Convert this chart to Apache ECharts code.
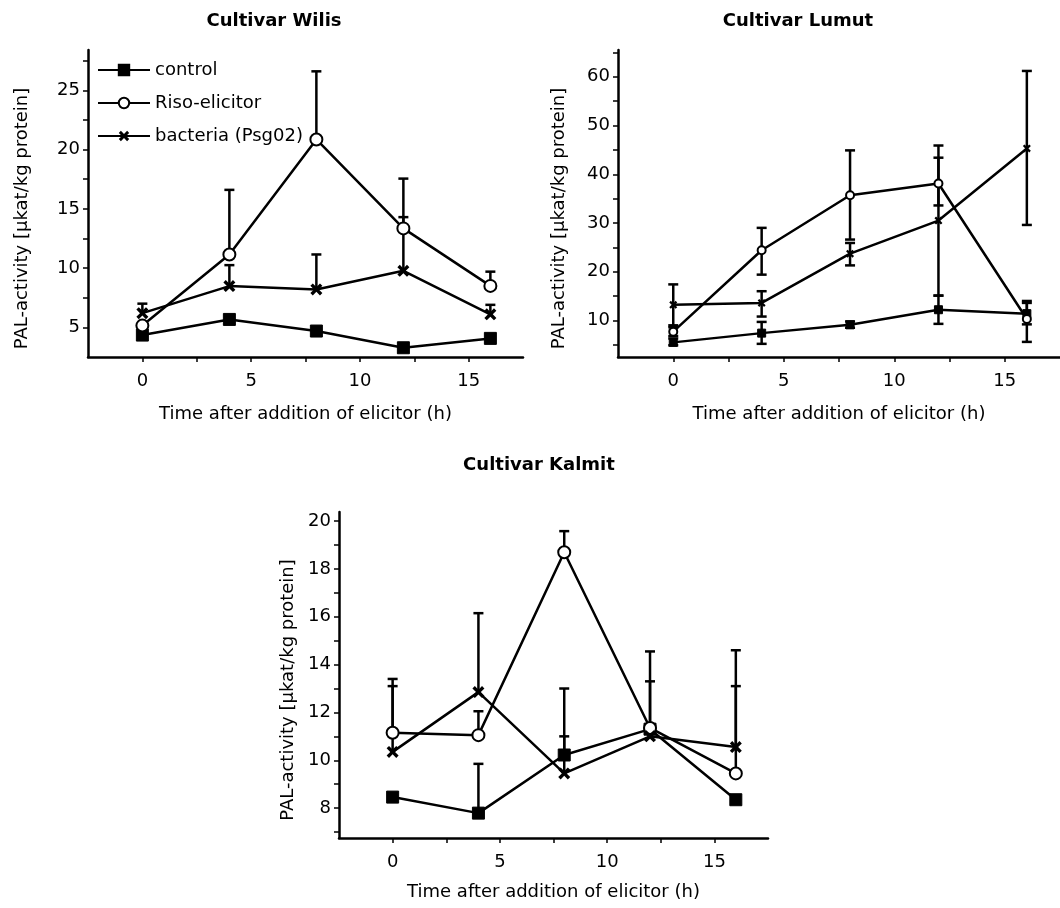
<!DOCTYPE html>
<html>
<head>
<meta charset="utf-8">
<script src="https://cdn.jsdelivr.net/npm/echarts@6/dist/echarts.min.js"></script>
<style>
html,body{margin:0;padding:0;background:#fff;}
#chart{width:1060px;height:908px;}
</style>
</head>
<body>
<div id="chart"></div>
<script>
// ---------- data ----------
const times = [0, 4, 8, 12, 16];
const seriesNames = ['control', 'Riso-elicitor', 'bacteria (Psg02)'];
const panelTitles = ['Cultivar Wilis', 'Cultivar Lumut', 'Cultivar Kalmit'];
const xAxisName = 'Time after addition of elicitor (h)';
const yAxisName = 'PAL-activity [µkat/kg protein]';

// Wilis
const wilisControl = [4.35, 5.67, 4.69, 3.28, 4.07];
const wilisRiso = [5.15, 11.15, 20.85, 13.35, 8.5];
const wilisBacteria = [6.2, 8.48, 8.2, 9.77, 6.1];
const wilisRisoUpper = [null, 16.6, 26.6, 17.55, 9.7];
const wilisBacteriaUpper = [7.0, 10.25, 11.15, 14.3, 6.9];

// Lumut
const lumutControl = [5.5, 7.4, 9.1, 12.2, 11.4];
const lumutRiso = [7.7, 24.4, 35.7, 38.1, 10.3];
const lumutBacteria = [13.2, 13.6, 23.7, 30.5, 45.3];
const lumutControlUpper = [6.3, 9.7, 9.8, 15.1, 13.6];
const lumutControlLower = [4.9, 5.2, 8.5, 9.3, 9.2];
const lumutRisoUpper = [8.6, 29.0, 44.9, 43.4, 14.0];
const lumutRisoLower = [6.8, 19.4, 26.6, 33.6, 5.6];
const lumutBacteriaUpper = [17.4, 16.0, 25.9, 45.9, 61.2];
const lumutBacteriaLower = [9.0, 10.8, 21.3, 15.1, 29.6];

// Kalmit
const kalmitControl = [8.46, 7.79, 10.22, 11.3, 8.35];
const kalmitRiso = [11.15, 11.05, 18.7, 11.35, 9.45];
const kalmitBacteria = [10.35, 12.85, 9.45, 11.0, 10.55];
const kalmitControlUpper = [null, 9.85, 11.0, 14.55, null];
const kalmitRisoUpper = [13.4, 12.05, 19.58, null, 13.1];
const kalmitBacteriaUpper = [13.1, 16.15, 13.0, 13.3, 14.6];

// axis ticks and labels
const xTickLabels = [0, 5, 10, 15];
const xTickMarks = [0, 2.5, 5, 7.5, 10, 12.5, 15];
const wilisYTickLabels = [5, 10, 15, 20, 25];
const wilisYTickMarks = [5, 7.5, 10, 12.5, 15, 17.5, 20, 22.5, 25, 27.5];
const lumutYTickLabels = [10, 20, 30, 40, 50, 60];
const lumutYTickMarks = [5, 10, 15, 20, 25, 30, 35, 40, 45, 50, 55, 60, 65];
const kalmitYTickLabels = [8, 10, 12, 14, 16, 18, 20];
const kalmitYTickMarks = [7, 8, 9, 10, 11, 12, 13, 14, 15, 16, 17, 18, 19, 20];

// ---------- chart ----------
const FONT = 'DejaVu Sans';
const X_SYMBOL = 'path://M0,2L2,0L5,3L8,0L10,2L7,5L10,8L8,10L5,7L2,10L0,8L3,5Z';

const panels = [
  {grid: {left: 88, top: 50, width: 435, height: 307}, yMin: 2.5, yMax: 28.4,
   yLabels: wilisYTickLabels, yTicks: wilisYTickMarks, symbolSize: 12,
   vals: [wilisControl, wilisRiso, wilisBacteria],
   upper: [null, wilisRisoUpper, wilisBacteriaUpper], lower: [null, null, null],
   yNameGap: 57, xNameGap: 48},
  {grid: {left: 618, top: 50, width: 444, height: 307}, yMin: 2.5, yMax: 65.5,
   yLabels: lumutYTickLabels, yTicks: lumutYTickMarks, symbolSize: 8,
   vals: [lumutControl, lumutRiso, lumutBacteria],
   upper: [lumutControlUpper, lumutRisoUpper, lumutBacteriaUpper],
   lower: [lumutControlLower, lumutRisoLower, lumutBacteriaLower],
   yNameGap: 50, xNameGap: 48},
  {grid: {left: 339, top: 512, width: 429, height: 326}, yMin: 6.75, yMax: 20.38,
   yLabels: kalmitYTickLabels, yTicks: kalmitYTickMarks, symbolSize: 12,
   vals: [kalmitControl, kalmitRiso, kalmitBacteria],
   upper: [kalmitControlUpper, kalmitRisoUpper, kalmitBacteriaUpper], lower: [null, null, null],
   yNameGap: 42, xNameGap: 45}
];

const titlePos = [{x: 269, y: 7}, {x: 793, y: 7}, {x: 534, y: 451}];

const symbolStyles = [
  {symbol: 'rect', itemStyle: {color: '#000', borderColor: '#000', borderWidth: 1}},
  {symbol: 'circle', itemStyle: {color: '#fff', borderColor: '#000', borderWidth: 2}},
  {symbol: X_SYMBOL, itemStyle: {color: '#000', borderWidth: 0}}
];

function renderErr(params, api) {
  const x = api.value(0), m = api.value(1), lo = api.value(2), hi = api.value(3);
  const pHi = api.coord([x, hi]);
  const pLo = api.coord([x, lo]);
  const hw = 5;
  const st = {stroke: '#000', lineWidth: 2.5};
  const ch = [
    {type: 'line', shape: {x1: pHi[0], y1: pHi[1], x2: pLo[0], y2: pLo[1]}, style: st},
    {type: 'line', shape: {x1: pHi[0] - hw, y1: pHi[1], x2: pHi[0] + hw, y2: pHi[1]}, style: st}
  ];
  if (lo < m) {
    ch.push({type: 'line', shape: {x1: pLo[0] - hw, y1: pLo[1], x2: pLo[0] + hw, y2: pLo[1]}, style: st});
  }
  return {type: 'group', children: ch};
}

const grids = [], xAxes = [], yAxes = [], series = [], titles = [];
panels.forEach((p, i) => {
  grids.push(p.grid);
  titles.push({text: panelTitles[i], left: titlePos[i].x, top: titlePos[i].y, textAlign: 'center',
    textStyle: {fontFamily: FONT, fontSize: 18, fontWeight: 'bold', color: '#000'}});
  xAxes.push({
    type: 'value', gridIndex: i, min: -2.5, max: 17.5,
    name: xAxisName, nameLocation: 'middle', nameGap: p.xNameGap,
    nameTextStyle: {fontFamily: FONT, fontSize: 18, color: '#000'},
    axisLine: {show: true, onZero: false, lineStyle: {color: '#000', width: 2.5}},
    axisTick: {show: true, length: 5, lineStyle: {color: '#000', width: 1.5}, customValues: xTickMarks},
    axisLabel: {fontFamily: FONT, fontSize: 18, color: '#000', margin: 15, customValues: xTickLabels},
    splitLine: {show: false}
  });
  yAxes.push({
    type: 'value', gridIndex: i, min: p.yMin, max: p.yMax,
    name: yAxisName, nameLocation: 'middle', nameGap: p.yNameGap, nameRotate: 90,
    nameTextStyle: {fontFamily: FONT, fontSize: 18, color: '#000', padding: [0, 30, 0, 0]},
    axisLine: {show: true, onZero: false, lineStyle: {color: '#000', width: 2.5}},
    axisTick: {show: true, length: 5, lineStyle: {color: '#000', width: 1.5}, customValues: p.yTicks},
    axisLabel: {fontFamily: FONT, fontSize: 18, color: '#000', margin: 8, customValues: p.yLabels},
    splitLine: {show: false}
  });
  // error bars first (drawn beneath)
  for (let s = 0; s < 3; s++) {
    const up = p.upper[s];
    if (!up) continue;
    const low = p.lower[s];
    const d = [];
    times.forEach((t, k) => {
      if (up[k] == null) return;
      const m = p.vals[s][k];
      d.push([t, m, low ? low[k] : m, up[k]]);
    });
    series.push({
      type: 'custom', name: seriesNames[s] + ' error', xAxisIndex: i, yAxisIndex: i,
      renderItem: renderErr, data: d, encode: {x: 0, y: [1, 2, 3]}, z: 1, silent: true
    });
  }
  for (let s = 0; s < 3; s++) {
    series.push({
      type: 'line', name: seriesNames[s], xAxisIndex: i, yAxisIndex: i,
      data: times.map((t, k) => [t, p.vals[s][k]]),
      symbol: symbolStyles[s].symbol, symbolSize: p.symbolSize, showSymbol: true,
      itemStyle: symbolStyles[s].itemStyle,
      lineStyle: {color: '#000', width: 2.5}, z: 3
    });
  }
});

const chart = echarts.init(document.getElementById('chart'), null, {renderer: 'canvas'});
chart.setOption({
  backgroundColor: '#fff',
  animation: false,
  title: titles,
  legend: {
    data: seriesNames, orient: 'vertical', left: 97, top: 61, padding: 0,
    itemWidth: 52, itemHeight: 13, itemGap: 15,
    textStyle: {fontFamily: FONT, fontSize: 18, color: '#000'}
  },
  grid: grids,
  xAxis: xAxes,
  yAxis: yAxes,
  series: series
});
</script>
</body>
</html>
